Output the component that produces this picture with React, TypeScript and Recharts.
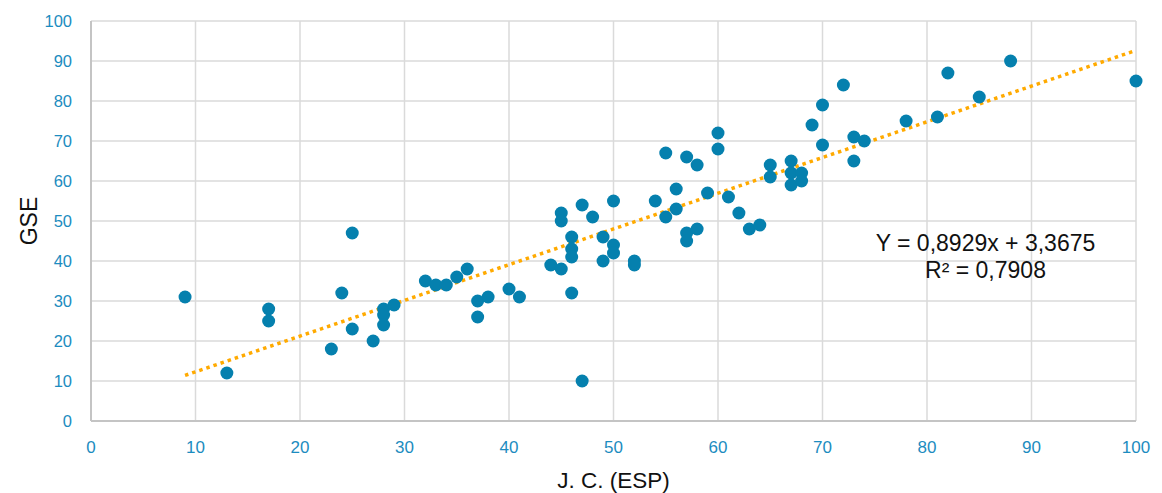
import React from 'react';
import {
  ScatterChart,
  Scatter,
  XAxis,
  YAxis,
  CartesianGrid,
  ReferenceLine,
  ReferenceDot,
} from 'recharts';

const jcEsp = [9, 13, 17, 17, 23, 24, 25, 25, 27, 28, 28, 28, 29, 32, 33, 34, 35, 36, 37, 37, 38, 40, 41, 44, 45, 45, 45, 46, 46, 46, 46, 47, 47, 48, 49, 49, 50, 50, 50, 52, 52, 54, 55, 55, 56, 56, 57, 57, 57, 58, 58, 59, 60, 60, 61, 62, 63, 64, 65, 65, 67, 67, 67, 68, 68, 69, 70, 70, 72, 73, 73, 74, 78, 81, 82, 85, 88, 100];
const gse = [31, 12, 28, 25, 18, 32, 47, 23, 20, 28, 26.5, 24, 29, 35, 34, 34, 36, 38, 30, 26, 31, 33, 31, 39, 38, 52, 50, 46, 43, 41, 32, 54, 10, 51, 46, 40, 55, 44, 42, 40, 39, 55, 67, 51, 58, 53, 66, 47, 45, 64, 48, 57, 72, 68, 56, 52, 48, 49, 64, 61, 65, 62, 59, 62, 60, 74, 79, 69, 84, 71, 65, 70, 75, 76, 87, 81, 90, 85];

const ticks = [0, 10, 20, 30, 40, 50, 60, 70, 80, 90, 100];
const slope = 0.8929;
const intercept = 3.3675;
const trendX = [9, 100];
const eqLine1 = 'Y = 0,8929x + 3,3675';
const eqLine2 = 'R² = 0,7908';
const eqPos = { x: 85.6, y1: 44.5, y2: 37.8 };

const points = jcEsp.map((x, i) => ({ x, y: gse[i] }));

const FONT = "Arial, 'Liberation Sans', Helvetica, sans-serif";
const TICK_COLOR = '#1c8cc0';
const DOT_COLOR = '#0580ae';

const Dot = (props: any) => (
  <circle cx={props.cx} cy={props.cy} r={6.5} fill={DOT_COLOR} />
);

export default function App() {
  return (
    <div style={{ position: 'absolute', left: 0, top: 0, background: '#fff' }}>
      <ScatterChart
        width={1162}
        height={493}
        margin={{ top: 21, right: 26, left: 0, bottom: 0 }}
        style={{ fontFamily: FONT }}
      >
        <CartesianGrid stroke="#dadada" strokeWidth={1.5} />
        <XAxis
          type="number"
          dataKey="x"
          domain={[0, 100]}
          ticks={ticks}
          height={72}
          tickLine={false}
          tickMargin={14}
          axisLine={{ stroke: '#c4c4c4', strokeWidth: 2 }}
          tick={{ fill: TICK_COLOR, fontSize: 17, fontFamily: FONT }}
          label={{
            content: ({ viewBox }: any) => (
              <text
                x={viewBox.x + viewBox.width / 2}
                y={viewBox.y + 67}
                textAnchor="middle"
                fontSize={22.5}
                fontFamily={FONT}
                fill="#111"
              >
                J. C. (ESP)
              </text>
            ),
          }}
        />
        <YAxis
          type="number"
          dataKey="y"
          domain={[0, 100]}
          ticks={ticks}
          width={91}
          tickLine={false}
          tickMargin={13}
          axisLine={{ stroke: '#c4c4c4', strokeWidth: 2 }}
          tick={{ fill: TICK_COLOR, fontSize: 16.5, fontFamily: FONT }}
          label={{
            content: ({ viewBox }: any) => {
              const cx = viewBox.x + 29;
              const cy = viewBox.y + viewBox.height / 2;
              return (
                <text
                  x={cx}
                  y={cy}
                  transform={`rotate(-90, ${cx}, ${cy})`}
                  textAnchor="middle"
                  dominantBaseline="central"
                  fontSize={23}
                  fontFamily={FONT}
                  fill="#111"
                >
                  GSE
                </text>
              );
            },
          }}
        />
        <Scatter data={points} shape={Dot} isAnimationActive={false} />
        <ReferenceLine
          segment={trendX.map((x) => ({ x, y: slope * x + intercept }))}
          stroke="#ffaa00"
          strokeWidth={3.5}
          strokeDasharray="3.5 4"
          ifOverflow="visible"
        />
        <ReferenceDot
          x={eqPos.x}
          y={eqPos.y1}
          r={0}
          fill="none"
          stroke="none"
          ifOverflow="visible"
          label={{ value: eqLine1, position: 'center', fontSize: 23, fill: '#111', fontFamily: FONT }}
        />
        <ReferenceDot
          x={eqPos.x}
          y={eqPos.y2}
          r={0}
          fill="none"
          stroke="none"
          ifOverflow="visible"
          label={{ value: eqLine2, position: 'center', fontSize: 23, fill: '#111', fontFamily: FONT }}
        />
      </ScatterChart>
    </div>
  );
}
